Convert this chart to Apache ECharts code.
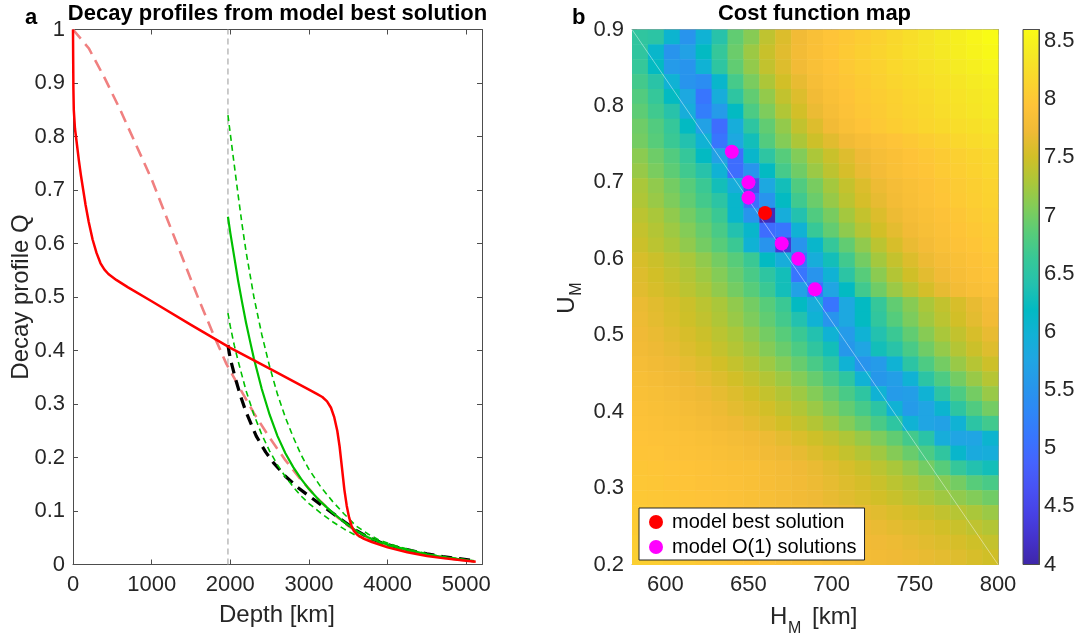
<!DOCTYPE html>
<html>
<head>
<meta charset="utf-8">
<script src="https://cdn.jsdelivr.net/npm/echarts@6/dist/echarts.min.js"></script>
<style>
  html, body { margin: 0; padding: 0; background: #ffffff; }
  #chart { width: 1078px; height: 641px; }
</style>
</head>
<body>
<div id="chart"></div>
<script>
// ---------- Panel a: decay profiles, [depth km, Q] ----------
const redProfile = [[0,1.0],[2,0.95],[5,0.89],[10,0.85],[25,0.815],[50,0.785],[75,0.755],[100,0.728],[130,0.7],[160,0.672],[200,0.64],[250,0.607],[300,0.582],[350,0.563],[400,0.551],[450,0.543],[550,0.532],[700,0.518],[1000,0.492],[1500,0.448],[2000,0.405],[2500,0.366],[3000,0.327],[3100,0.319],[3170,0.313],[3230,0.305],[3280,0.293],[3320,0.276],[3360,0.25],[3390,0.22],[3420,0.18],[3450,0.14],[3480,0.11],[3510,0.088],[3540,0.073],[3570,0.063],[3620,0.055],[3700,0.048],[3800,0.042],[4000,0.032],[4250,0.023],[4500,0.016],[4750,0.011],[5000,0.007],[5120,0.005]];
const pinkProfile = [[0,1.0],[200,0.965],[400,0.91],[600,0.85],[800,0.785],[1000,0.72],[1200,0.645],[1400,0.57],[1600,0.495],[1800,0.425],[1950,0.375],[2100,0.335],[2300,0.283],[2500,0.237],[2700,0.195],[2900,0.158],[3100,0.125],[3300,0.096],[3500,0.072],[3700,0.053],[3900,0.04],[4200,0.027],[4500,0.018],[4800,0.011],[5100,0.006]];
const blackProfile = [[1970,0.41],[2000,0.385],[2060,0.35],[2130,0.315],[2200,0.285],[2330,0.24],[2450,0.21],[2550,0.19],[2700,0.165],[2850,0.145],[3000,0.128],[3150,0.112],[3300,0.096],[3450,0.08],[3600,0.064],[3750,0.051],[3900,0.042],[4100,0.033],[4300,0.026],[4500,0.02],[4700,0.015],[4900,0.011],[5100,0.007]];
const greenProfile = [[1970,0.65],[2000,0.62],[2050,0.575],[2100,0.53],[2150,0.49],[2200,0.452],[2250,0.418],[2300,0.385],[2400,0.328],[2500,0.28],[2600,0.24],[2700,0.208],[2800,0.182],[2900,0.16],[3000,0.141],[3150,0.117],[3300,0.097],[3450,0.079],[3600,0.063],[3750,0.051],[3900,0.042],[4100,0.033],[4300,0.026],[4500,0.019],[4700,0.014],[4900,0.01],[5100,0.006]];
const greenUpper = [[1970,0.84],[2030,0.77],[2100,0.69],[2150,0.635],[2200,0.585],[2300,0.5],[2400,0.43],[2500,0.37],[2600,0.318],[2700,0.275],[2800,0.238],[2900,0.205],[3000,0.178],[3150,0.145],[3300,0.118],[3450,0.094],[3600,0.072],[3750,0.057],[3900,0.045],[4100,0.035],[4300,0.027],[4500,0.02],[4700,0.015],[4900,0.011],[5100,0.007]];
const greenLower = [[1970,0.47],[2000,0.445],[2050,0.41],[2100,0.38],[2200,0.325],[2300,0.28],[2400,0.243],[2500,0.212],[2600,0.186],[2700,0.164],[2800,0.145],[2900,0.128],[3000,0.114],[3150,0.096],[3300,0.08],[3450,0.066],[3600,0.054],[3750,0.046],[3900,0.039],[4100,0.031],[4300,0.024],[4500,0.018],[4700,0.013],[4900,0.009],[5100,0.006]];
const cutDepth = 1970;
const depthTicks = [0, 1000, 2000, 3000, 4000, 5000];

// ---------- Panel b: cost function map ----------
const hGrid = [580,590,600,610,620,630,640,650,660,670,680,690,700,710,720,730,740,750,760,770,780,790,800];
// rows listed from U = 0.90 (top) down to U = 0.20 (bottom)
const uGrid = [0.90,0.88,0.86,0.84,0.82,0.80,0.78,0.76,0.74,0.72,0.70,0.68,0.66,0.64,0.62,0.60,0.58,0.56,0.54,0.52,0.50,0.48,0.46,0.44,0.42,0.40,0.38,0.36,0.34,0.32,0.30,0.28,0.26,0.24,0.22,0.20];
const costRows = [
  [6.55,6.5,6.05,5.5,6.0,6.45,6.9,7.1,7.4,7.58,7.75,7.87,7.95,8.0,8.06,8.12,8.19,8.25,8.32,8.39,8.46,8.53,8.6],
  [6.55,6.1,5.5,5.7,6.2,6.6,6.95,7.21,7.45,7.62,7.77,7.88,7.96,8.02,8.08,8.14,8.2,8.26,8.32,8.38,8.44,8.5,8.56],
  [6.6,6.2,5.6,5.5,6.0,6.53,6.9,7.16,7.42,7.59,7.75,7.87,7.94,8.01,8.07,8.12,8.18,8.23,8.29,8.34,8.4,8.45,8.51],
  [6.71,6.48,6.0,5.5,5.4,6.1,6.73,7.03,7.3,7.51,7.67,7.81,7.91,7.98,8.04,8.09,8.15,8.2,8.25,8.3,8.35,8.4,8.45],
  [6.81,6.6,6.2,5.8,5.1,5.9,6.53,6.9,7.16,7.42,7.59,7.75,7.87,7.94,8.01,8.06,8.11,8.16,8.21,8.26,8.31,8.36,8.41],
  [6.88,6.69,6.45,5.9,5.2,5.6,6.2,6.77,7.05,7.32,7.52,7.69,7.82,7.91,7.99,8.04,8.09,8.14,8.19,8.24,8.29,8.34,8.39],
  [6.97,6.81,6.6,6.2,5.7,5.0,5.9,6.53,6.9,7.16,7.42,7.59,7.75,7.87,7.94,8.01,8.06,8.11,8.16,8.2,8.24,8.28,8.32],
  [7.0,6.85,6.65,6.4,6.0,5.1,5.8,6.3,6.82,7.08,7.3,7.48,7.62,7.74,7.83,7.9,7.95,8.0,8.06,8.11,8.17,8.22,8.27],
  [7.12,6.97,6.81,6.6,6.2,5.7,5.0,6.1,6.52,6.84,7.07,7.29,7.46,7.6,7.72,7.81,7.88,7.94,7.99,8.04,8.09,8.14,8.19],
  [7.18,7.03,6.88,6.69,6.45,6.0,5.0,5.5,6.2,6.73,6.98,7.2,7.39,7.55,7.68,7.78,7.86,7.92,7.97,8.02,8.07,8.12,8.17],
  [7.28,7.15,7.0,6.85,6.65,6.3,5.9,4.6,5.8,6.3,6.8,7.02,7.25,7.43,7.58,7.7,7.8,7.87,7.93,7.98,8.03,8.08,8.13],
  [7.31,7.19,7.05,6.9,6.71,6.5,6.1,5.0,5.5,6.2,6.69,6.95,7.18,7.38,7.54,7.66,7.77,7.85,7.91,7.97,8.02,8.07,8.12],
  [7.38,7.28,7.15,7.0,6.85,6.65,6.1,5.5,4.1,5.9,6.4,6.8,7.02,7.25,7.43,7.58,7.7,7.8,7.87,7.93,7.98,8.03,8.08],
  [7.43,7.33,7.22,7.08,6.93,6.75,6.4,6.1,5.0,5.1,6.0,6.63,6.91,7.14,7.34,7.51,7.64,7.75,7.84,7.9,7.96,8.0,8.05],
  [7.47,7.38,7.28,7.15,7.0,6.85,6.65,6.0,5.5,4.3,5.5,6.1,6.6,6.9,7.15,7.38,7.55,7.68,7.78,7.86,7.92,7.97,8.02],
  [7.55,7.47,7.38,7.28,7.15,7.0,6.85,6.65,6.2,5.9,5.1,5.9,6.3,6.7,7.0,7.25,7.43,7.58,7.7,7.8,7.87,7.93,7.98],
  [7.59,7.51,7.43,7.33,7.22,7.08,6.93,6.75,6.53,6.3,5.1,5.5,6.0,6.5,6.85,7.12,7.33,7.5,7.63,7.74,7.83,7.9,7.95],
  [7.62,7.55,7.47,7.38,7.28,7.15,7.0,6.85,6.65,6.3,5.7,5.1,5.75,6.2,6.7,6.98,7.2,7.38,7.53,7.66,7.77,7.85,7.9],
  [7.68,7.62,7.55,7.47,7.38,7.28,7.15,7.0,6.85,6.65,6.2,5.9,5.1,5.8,6.2,6.6,6.9,7.1,7.28,7.42,7.55,7.67,7.78],
  [7.7,7.64,7.57,7.49,7.41,7.31,7.19,7.05,6.9,6.71,6.4,6.0,5.5,5.8,6.2,6.56,6.83,7.04,7.23,7.38,7.51,7.63,7.75],
  [7.73,7.68,7.62,7.55,7.47,7.38,7.28,7.15,7.0,6.85,6.65,6.4,6.0,5.6,6.0,6.4,6.65,6.9,7.1,7.28,7.42,7.55,7.67],
  [7.76,7.71,7.66,7.59,7.52,7.43,7.34,7.23,7.09,6.94,6.77,6.55,6.3,5.55,5.75,6.3,6.47,6.75,6.98,7.17,7.34,7.47,7.6],
  [7.8,7.76,7.71,7.65,7.59,7.51,7.43,7.33,7.22,7.08,6.93,6.75,6.53,6.0,5.5,5.6,6.0,6.5,6.78,7.0,7.19,7.35,7.48],
  [7.84,7.8,7.76,7.71,7.65,7.59,7.51,7.43,7.33,7.22,7.08,6.93,6.75,6.53,6.0,5.55,5.65,6.0,6.5,6.78,7.0,7.19,7.35],
  [7.87,7.84,7.8,7.76,7.71,7.65,7.59,7.51,7.43,7.33,7.22,7.08,6.93,6.75,6.53,6.0,5.6,5.65,6.0,6.5,6.78,7.0,7.19],
  [7.89,7.87,7.84,7.8,7.75,7.7,7.64,7.58,7.51,7.42,7.32,7.2,7.06,6.91,6.73,6.5,6.0,5.6,5.75,6.05,6.53,6.8,7.0],
  [7.91,7.89,7.87,7.84,7.8,7.76,7.71,7.65,7.59,7.51,7.43,7.33,7.22,7.08,6.93,6.75,6.53,6.0,5.75,5.7,6.0,6.5,6.7],
  [7.94,7.93,7.91,7.89,7.86,7.83,7.79,7.75,7.7,7.64,7.57,7.49,7.41,7.31,7.19,7.05,6.9,6.71,6.48,5.9,5.75,5.75,6.05],
  [7.96,7.95,7.93,7.91,7.89,7.87,7.84,7.8,7.76,7.71,7.66,7.59,7.52,7.43,7.34,7.23,7.09,6.94,6.77,6.55,6.1,5.85,5.9],
  [7.98,7.97,7.95,7.94,7.92,7.9,7.88,7.86,7.82,7.78,7.73,7.68,7.62,7.55,7.47,7.38,7.28,7.15,7.0,6.85,6.6,6.4,6.3],
  [7.99,7.98,7.96,7.95,7.93,7.91,7.89,7.86,7.83,7.79,7.75,7.7,7.65,7.59,7.53,7.46,7.38,7.3,7.2,7.1,7.0,6.85,6.75],
  [8.0,7.99,7.98,7.96,7.94,7.92,7.9,7.87,7.84,7.8,7.76,7.72,7.67,7.62,7.57,7.51,7.45,7.38,7.31,7.23,7.15,7.07,6.98],
  [8.02,8.01,8.0,7.98,7.96,7.94,7.92,7.9,7.87,7.84,7.81,7.78,7.74,7.7,7.66,7.62,7.57,7.52,7.47,7.41,7.35,7.28,7.2],
  [8.04,8.03,8.02,8.0,7.98,7.96,7.94,7.92,7.9,7.87,7.84,7.81,7.78,7.75,7.72,7.68,7.64,7.6,7.56,7.51,7.46,7.4,7.33],
  [8.06,8.05,8.04,8.02,8.0,7.98,7.96,7.94,7.92,7.9,7.87,7.85,7.82,7.79,7.76,7.73,7.7,7.66,7.62,7.58,7.54,7.49,7.43],
  [8.08,8.07,8.05,8.03,8.0,7.98,7.96,7.94,7.92,7.9,7.88,7.86,7.84,7.82,7.79,7.76,7.73,7.7,7.67,7.64,7.6,7.55,7.5]
];
const bestSolution = [[660, 0.66]];
const o1Solutions = [[640,0.74],[650,0.70],[650,0.68],[670,0.62],[680,0.60],[690,0.56]];
const diagLine = [[580, 0.9], [800, 0.2]];
const hTicks = [600, 650, 700, 750, 800];
const uTicks = [0.2, 0.3, 0.4, 0.5, 0.6, 0.7, 0.8, 0.9];
const costTicks = [4, 4.5, 5, 5.5, 6, 6.5, 7, 7.5, 8, 8.5];
const costRange = [4, 8.6];

// parula colour map
const parula = ['#3e26a8','#4432cb','#4741e5','#4852f4','#4563fd','#3875fe','#2e87f7','#2796eb','#20a5e3','#12b1d6','#02bac3','#24c1ae','#37c897','#57cc7a','#81cc59','#abc739','#d1bf27','#f0ba36','#fec338','#fad62d','#f5e924','#f9fb15'];

const FONT = '"Liberation Sans", Arial, Helvetica, sans-serif';
const TXT = '#262626';

// heatmap cells: [column index, row index, cost]
const cells = [];
costRows.forEach((row, i) => row.forEach((v, c) => cells.push([c, i, v])));
const hMin = hGrid[0], hMax = hGrid[hGrid.length - 1];
const uMax = uGrid[0], uMin = uGrid[uGrid.length - 1];
const cellW = (hMax - hMin) / hGrid.length;
const cellH = (uMax - uMin) / uGrid.length;

const chart = echarts.init(document.getElementById('chart'), null, { renderer: 'canvas' });

const plainNumber = v => String(Math.round(v * 1000) / 1000);

function valueAxis(extra) {
  return Object.assign({
    type: 'value',
    splitLine: { show: false },
    axisLine: { show: true, onZero: false, lineStyle: { color: '#4d4d4d', width: 1 } },
    axisTick: { show: true, inside: true, length: 5, lineStyle: { color: '#4d4d4d', width: 1 } },
    axisLabel: { show: true, color: TXT, fontSize: 22, fontFamily: FONT, formatter: plainNumber }
  }, extra);
}

const noLabel = { show: false };

const option = {
  animation: false,
  backgroundColor: '#ffffff',
  grid: [
    { left: 73, top: 29.5, width: 409, height: 535 },
    { left: 632, top: 29.5, width: 366, height: 535 },
    { left: 1023, top: 29.5, width: 16, height: 535 }
  ],
  xAxis: [
    valueAxis({ gridIndex: 0, min: 0, max: 5200, position: 'bottom',
      axisTick: { show: true, inside: true, length: 5, customValues: depthTicks, lineStyle: { color: '#4d4d4d' } },
      axisLabel: { color: TXT, fontSize: 22, fontFamily: FONT, margin: 9, customValues: depthTicks, formatter: plainNumber } }),
    valueAxis({ gridIndex: 0, min: 0, max: 5200, position: 'top',
      axisTick: { show: true, inside: true, length: 5, customValues: depthTicks, lineStyle: { color: '#4d4d4d' } },
      axisLabel: noLabel }),
    valueAxis({ gridIndex: 1, min: 580, max: 800, position: 'bottom',
      axisLine: { show: true, onZero: false, lineStyle: { color: '#9a9a9a', width: 1 } },
      axisTick: { show: true, inside: true, length: 5, customValues: hTicks, lineStyle: { color: '#8a8a8a' } },
      axisLabel: { color: TXT, fontSize: 22, fontFamily: FONT, margin: 9, customValues: hTicks, formatter: plainNumber } }),
    valueAxis({ gridIndex: 1, min: 580, max: 800, position: 'top',
      axisLine: { show: true, onZero: false, lineStyle: { color: '#9a9a9a', width: 1 } },
      axisTick: { show: true, inside: true, length: 5, customValues: hTicks, lineStyle: { color: '#8a8a8a' } },
      axisLabel: noLabel }),
    { type: 'value', gridIndex: 2, min: 0, max: 1, show: false }
  ],
  yAxis: [
    valueAxis({ gridIndex: 0, min: 0, max: 1, interval: 0.1, position: 'left',
      axisLabel: { color: TXT, fontSize: 22, fontFamily: FONT, margin: 8, formatter: plainNumber } }),
    valueAxis({ gridIndex: 0, min: 0, max: 1, interval: 0.1, position: 'right', axisLabel: noLabel }),
    valueAxis({ gridIndex: 1, min: 0.2, max: 0.9, position: 'left',
      axisLine: { show: true, onZero: false, lineStyle: { color: '#9a9a9a', width: 1 } },
      axisTick: { show: true, inside: true, length: 5, customValues: uTicks, lineStyle: { color: '#8a8a8a' } },
      axisLabel: { color: TXT, fontSize: 22, fontFamily: FONT, margin: 8, customValues: uTicks, formatter: plainNumber } }),
    valueAxis({ gridIndex: 1, min: 0.2, max: 0.9, position: 'right',
      axisLine: { show: true, onZero: false, lineStyle: { color: '#9a9a9a', width: 1 } },
      axisTick: { show: true, inside: true, length: 5, customValues: uTicks, lineStyle: { color: '#8a8a8a' } },
      axisLabel: noLabel }),
    valueAxis({ gridIndex: 2, min: costRange[0], max: costRange[1], position: 'right',
      axisLine: { show: true, onZero: false, lineStyle: { color: '#4d4d4d', width: 1 } },
      axisTick: { show: true, inside: true, length: 4, customValues: costTicks, lineStyle: { color: '#4d4d4d' } },
      axisLabel: { color: TXT, fontSize: 22, fontFamily: FONT, margin: 5, customValues: costTicks, formatter: plainNumber } })
  ],
  visualMap: {
    type: 'continuous', show: false, min: costRange[0], max: costRange[1],
    seriesIndex: 7, dimension: 2, inRange: { color: parula }
  },
  legend: {
    orient: 'vertical', left: 639, top: 508,
    data: ['model best solution', 'model O(1) solutions'],
    icon: 'circle', itemWidth: 14, itemHeight: 14, itemGap: 5,
    padding: [4, 8, 3, 10],
    backgroundColor: '#ffffff', borderColor: '#262626', borderWidth: 1, borderRadius: 0,
    textStyle: { fontSize: 20, fontFamily: FONT, color: '#000000', padding: [0, 0, 0, 4] }
  },
  series: [
    { type: 'line', name: 'cut', xAxisIndex: 0, yAxisIndex: 0, data: [[cutDepth, 0], [cutDepth, 1]],
      showSymbol: false, silent: true, lineStyle: { color: '#b0b0b0', width: 1.3, type: [6, 4] }, z: 2 },
    { type: 'line', name: 'pink', xAxisIndex: 0, yAxisIndex: 0, data: pinkProfile, showSymbol: false,
      lineStyle: { color: '#f08080', width: 2.6, type: [12, 7], join: 'round' }, z: 3 },
    { type: 'line', name: 'black', xAxisIndex: 0, yAxisIndex: 0, data: blackProfile, showSymbol: false,
      lineStyle: { color: '#000000', width: 3.2, type: [11, 7], join: 'round' }, z: 4 },
    { type: 'line', name: 'gup', xAxisIndex: 0, yAxisIndex: 0, data: greenUpper, showSymbol: false,
      lineStyle: { color: '#00c000', width: 1.6, type: [6, 4], join: 'round' }, z: 5 },
    { type: 'line', name: 'glow', xAxisIndex: 0, yAxisIndex: 0, data: greenLower, showSymbol: false,
      lineStyle: { color: '#00c000', width: 1.6, type: [6, 4], join: 'round' }, z: 5 },
    { type: 'line', name: 'green', xAxisIndex: 0, yAxisIndex: 0, data: greenProfile, showSymbol: false,
      lineStyle: { color: '#00c000', width: 2.2, join: 'round' }, z: 6 },
    { type: 'line', name: 'red', xAxisIndex: 0, yAxisIndex: 0, data: redProfile, showSymbol: false,
      lineStyle: { color: '#ff0000', width: 2.5, join: 'round' }, z: 7 },
    // cost map cells
    { type: 'custom', name: 'cost', xAxisIndex: 2, yAxisIndex: 2, data: cells, z: 1,
      encode: { x: 0, y: 1 },
      renderItem: function (params, api) {
        const c = api.value(0), i = api.value(1);
        const p0 = api.coord([hMin + c * cellW, uMax - i * cellH]);
        const p1 = api.coord([hMin + (c + 1) * cellW, uMax - (i + 1) * cellH]);
        return { type: 'rect',
          shape: { x: p0[0], y: p0[1], width: p1[0] - p0[0] + 0.5, height: p1[1] - p0[1] + 0.5 },
          style: { fill: api.visual('color') } };
      } },
    { type: 'line', name: 'diag', xAxisIndex: 2, yAxisIndex: 2, data: diagLine, showSymbol: false, silent: true,
      lineStyle: { color: 'rgba(255,255,255,0.55)', width: 0.8 }, z: 3 },
    { type: 'scatter', name: 'model O(1) solutions', xAxisIndex: 2, yAxisIndex: 2, data: o1Solutions,
      symbol: 'circle', symbolSize: 14, itemStyle: { color: '#ff00ff', opacity: 1 }, z: 5 },
    { type: 'scatter', name: 'model best solution', xAxisIndex: 2, yAxisIndex: 2, data: bestSolution,
      symbol: 'circle', symbolSize: 14, itemStyle: { color: '#ff0000', opacity: 1 }, z: 6 },
    // colour bar
    { type: 'custom', name: 'colorbar', xAxisIndex: 4, yAxisIndex: 4, data: [[0, costRange[0], costRange[1]]],
      renderItem: function (params, api) {
        const p0 = api.coord([0, api.value(2)]);
        const p1 = api.coord([1, api.value(1)]);
        const stops = parula.map((col, k) => ({ offset: k / (parula.length - 1), color: col }));
        return { type: 'rect',
          shape: { x: p0[0], y: p0[1], width: p1[0] - p0[0], height: p1[1] - p0[1] },
          style: { fill: new echarts.graphic.LinearGradient(0, 1, 0, 0, stops), stroke: '#4d4d4d', lineWidth: 1 } };
      } }
  ],
  graphic: [
    { type: 'text', left: 25, top: 7, style: { text: 'a', font: 'bold 22px ' + FONT, fill: '#000' } },
    { type: 'text', x: 277.5, y: 14, style: { text: 'Decay profiles from model best solution', font: 'bold 22px ' + FONT, fill: '#000', align: 'center', verticalAlign: 'middle' } },
    { type: 'text', left: 572, top: 7, style: { text: 'b', font: 'bold 22px ' + FONT, fill: '#000' } },
    { type: 'text', x: 814.5, y: 14, style: { text: 'Cost function map', font: 'bold 22px ' + FONT, fill: '#000', align: 'center', verticalAlign: 'middle' } },
    { type: 'text', x: 277, y: 615, style: { text: 'Depth [km]', font: '24px ' + FONT, fill: TXT, align: 'center', verticalAlign: 'middle' } },
    { type: 'text', x: 21, y: 297, rotation: Math.PI / 2, style: { text: 'Decay profile Q', font: '24px ' + FONT, fill: TXT, align: 'center', verticalAlign: 'middle' } },
    { type: 'text', x: 567, y: 305, rotation: Math.PI / 2, style: { text: 'U', font: '24px ' + FONT, fill: TXT, align: 'center', verticalAlign: 'middle' } },
    { type: 'text', x: 577, y: 289, rotation: Math.PI / 2, style: { text: 'M', font: '16px ' + FONT, fill: TXT, align: 'center', verticalAlign: 'middle' } },
    { type: 'text', x: 770, y: 617, style: { text: 'H', font: '24px ' + FONT, fill: TXT, align: 'left', verticalAlign: 'middle' } },
    { type: 'text', x: 788, y: 629, style: { text: 'M', font: '16px ' + FONT, fill: TXT, align: 'left', verticalAlign: 'middle' } },
    { type: 'text', x: 812, y: 617, style: { text: '[km]', font: '24px ' + FONT, fill: TXT, align: 'left', verticalAlign: 'middle' } }
  ]
};

chart.setOption(option);
</script>
</body>
</html>
